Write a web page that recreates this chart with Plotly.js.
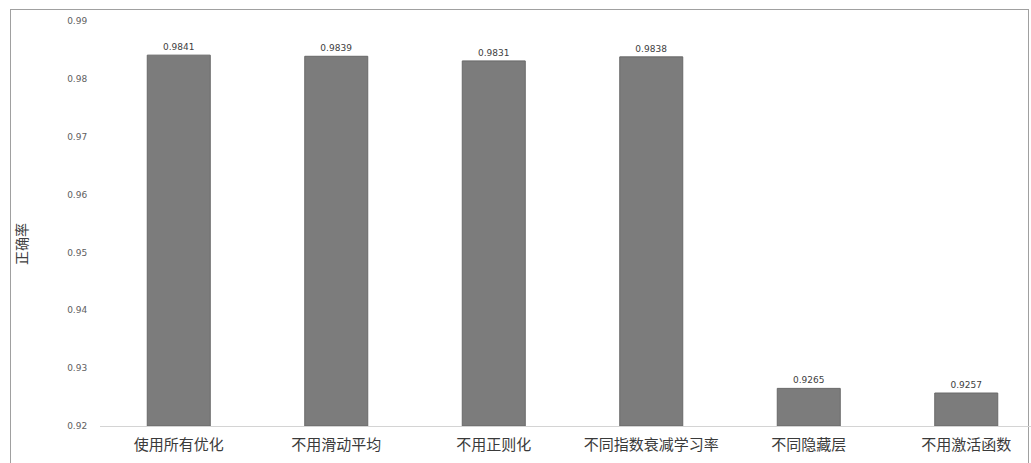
<!DOCTYPE html>
<html>
<head>
<meta charset="utf-8">
<script src="https://cdn.plot.ly/plotly-3.0.1.min.js"></script>
<style>
  html, body { margin: 0; padding: 0; background: #ffffff; }
  #frame { position: absolute; left: 10px; top: 9px; width: 1019px; height: 460px; border: 1px solid #a0a0a0; box-sizing: border-box; }
  #chart { position: absolute; left: 0; top: 0; width: 1031px; height: 463px; }
</style>
</head>
<body>
<div id="frame"></div>
<div id="chart"></div>
<script>
const categories = ["使用所有优化", "不用滑动平均", "不用正则化", "不同指数衰减学习率", "不同隐藏层", "不用激活函数"];
const accuracy = [0.9841, 0.9839, 0.9831, 0.9838, 0.9265, 0.9257];
const valueLabels = ["0.9841", "0.9839", "0.9831", "0.9838", "0.9265", "0.9257"];
const yTitle = "正确率";
const axisBase = 0.92;

const W = 1031, H = 463;
const margin = { l: 100, r: 0, t: 21, b: 37 };
const plotW = W - margin.l - margin.r;
const plotH = H - margin.t - margin.b;
const catPx = 157.5;

const trace = {
  type: "bar",
  x: categories,
  y: accuracy.map(v => v - axisBase),
  base: axisBase,
  text: valueLabels,
  textposition: "outside",
  cliponaxis: false,
  textfont: { family: "DejaVu Sans, sans-serif", size: 9, color: "#404040" },
  marker: { color: "#7c7c7c", line: { color: "#686868", width: 1 } },
  width: 0.4,
  hoverinfo: "none"
};

const layout = {
  width: W, height: H,
  margin: margin,
  paper_bgcolor: "rgba(0,0,0,0)",
  plot_bgcolor: "rgba(0,0,0,0)",
  showlegend: false,
  xaxis: {
    type: "category",
    range: [-0.5, -0.5 + plotW / catPx],
    showline: true, linecolor: "#d4d4d4", linewidth: 1,
    showgrid: false, zeroline: false,
    ticks: "outside", ticklen: 5, tickcolor: "rgba(0,0,0,0)",
    tickfont: { family: "Noto Sans CJK SC, sans-serif", size: 15, color: "#3a3a3a" }
  },
  yaxis: {
    range: [0.92, 0.99],
    dtick: 0.01, tick0: 0.92,
    tickformat: ".2f",
    showgrid: false, zeroline: false, showline: false,
    ticks: "outside", ticklen: 10, tickcolor: "rgba(0,0,0,0)",
    tickfont: { family: "DejaVu Sans, sans-serif", size: 9, color: "#606060" }
  },
  annotations: [{
    text: yTitle,
    xref: "paper", yref: "paper",
    x: (21 - margin.l) / plotW, y: (H - margin.b - 244) / plotH,
    xanchor: "center", yanchor: "middle",
    textangle: -90, showarrow: false,
    font: { family: "Noto Sans CJK SC, sans-serif", size: 14, color: "#404040" }
  }]
};

Plotly.newPlot("chart", [trace], layout, { displayModeBar: false, staticPlot: true });
</script>
</body>
</html>
